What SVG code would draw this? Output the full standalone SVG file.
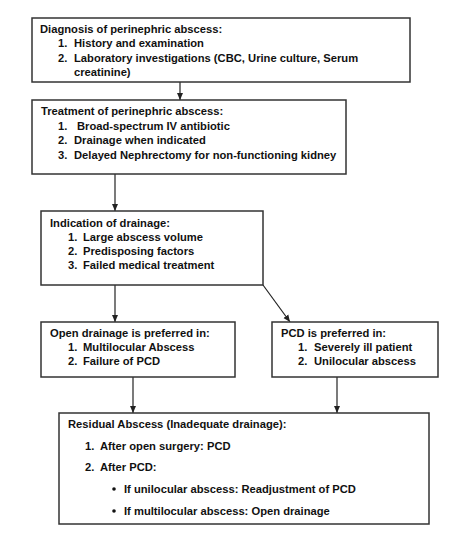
<svg xmlns="http://www.w3.org/2000/svg" width="474" height="538" viewBox="0 0 474 538">
<style>
.box{fill:#fff;stroke:#333;stroke-width:1.5}
text{font-family:"Liberation Sans",Arial,sans-serif;font-weight:bold;font-size:11.2px;fill:#111}
.c{stroke:#222;stroke-width:1.2;fill:none}
</style>
<defs>
<marker id="ah" markerWidth="8" markerHeight="8" refX="7" refY="4" orient="auto" markerUnits="userSpaceOnUse">
<path d="M0,1 L7,4 L0,7 Z" fill="#222"/>
</marker>
</defs>
<rect width="474" height="538" fill="#fff"/>
<g id="connectors">
<line class="c" x1="180" y1="82" x2="180" y2="100" marker-end="url(#ah)"/>
<line class="c" x1="115" y1="174" x2="115" y2="211" marker-end="url(#ah)"/>
<line class="c" x1="115" y1="285" x2="115" y2="322" marker-end="url(#ah)"/>
<line class="c" x1="263" y1="285" x2="290" y2="322" marker-end="url(#ah)"/>
<line class="c" x1="133" y1="377" x2="133" y2="413" marker-end="url(#ah)"/>
<line class="c" x1="337" y1="377" x2="337" y2="413" marker-end="url(#ah)"/>
</g>
<g id="diagnosis">
<rect class="box" x="32" y="18" width="378" height="64"/>
<text x="40" y="33">Diagnosis of perinephric abscess:</text>
<text x="58" y="47">1.</text><text x="74" y="47">History and examination</text>
<text x="58" y="62">2.</text><text x="74" y="62">Laboratory investigations (CBC, Urine culture, Serum</text>
<text x="74" y="76">creatinine)</text>
</g>
<g id="treatment">
<rect class="box" x="32" y="100" width="314" height="74"/>
<text x="41" y="115">Treatment of perinephric abscess:</text>
<text x="58" y="130">1.</text><text x="77" y="130">Broad-spectrum IV antibiotic</text>
<text x="58" y="144">2.</text><text x="74" y="144">Drainage when indicated</text>
<text x="58" y="159">3.</text><text x="74" y="159">Delayed Nephrectomy for non-functioning kidney</text>
</g>
<g id="indication">
<rect class="box" x="41" y="211" width="222" height="74"/>
<text x="50" y="227">Indication of drainage:</text>
<text x="68" y="241">1.</text><text x="83" y="241">Large abscess volume</text>
<text x="68" y="255">2.</text><text x="83" y="255">Predisposing factors</text>
<text x="68" y="269">3.</text><text x="83" y="269">Failed medical treatment</text>
</g>
<g id="open">
<rect class="box" x="41" y="322" width="194" height="55"/>
<text x="50" y="337">Open drainage is preferred in:</text>
<text x="68" y="351">1.</text><text x="83" y="351">Multilocular Abscess</text>
<text x="68" y="365">2.</text><text x="83" y="365">Failure of PCD</text>
</g>
<g id="pcd">
<rect class="box" x="272" y="322" width="166" height="55"/>
<text x="281" y="337">PCD is preferred in:</text>
<text x="298" y="351">1.</text><text x="314" y="351">Severely ill patient</text>
<text x="298" y="365">2.</text><text x="314" y="365">Unilocular abscess</text>
</g>
<g id="residual">
<rect class="box" x="59" y="413" width="370" height="111"/>
<text x="68" y="428">Residual Abscess (Inadequate drainage):</text>
<text x="85" y="450">1.</text><text x="100" y="450">After open surgery: PCD</text>
<text x="85" y="471">2.</text><text x="100" y="471">After PCD:</text>
<circle cx="114" cy="489" r="1.8" fill="#111"/>
<text x="124" y="493">If unilocular abscess: Readjustment of PCD</text>
<circle cx="114" cy="511" r="1.8" fill="#111"/>
<text x="124" y="515">If multilocular abscess: Open drainage</text>
</g>
</svg>
